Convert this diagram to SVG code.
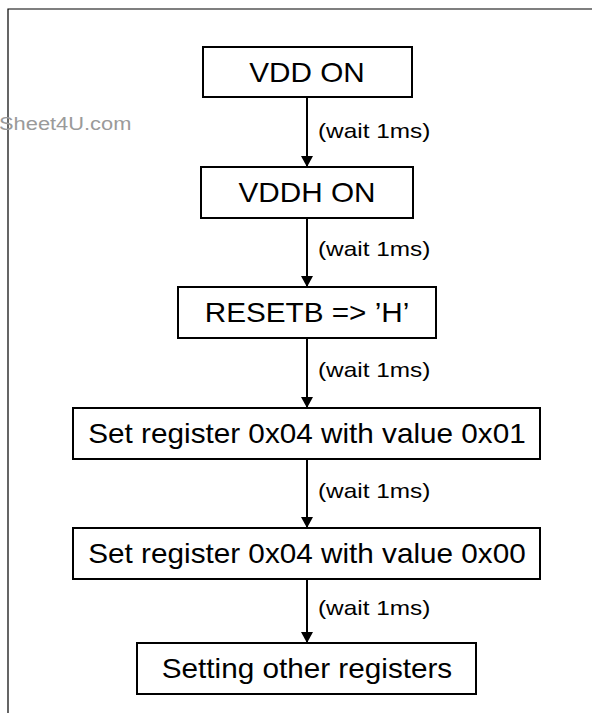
<svg xmlns="http://www.w3.org/2000/svg" width="592" height="713" viewBox="0 0 592 713">
<defs>
<style>
.box{fill:#fff;stroke:#000;stroke-width:2}
.t{font-family:"Liberation Sans",Arial,sans-serif;font-size:27px;fill:#000;text-anchor:middle}
.lbl{font-family:"Liberation Sans",Arial,sans-serif;font-size:21px;fill:#000}
.wm{font-family:"Liberation Sans",Arial,sans-serif;font-size:19px;fill:#9a9a9a}
.c{stroke:#000;stroke-width:2;fill:none}
</style>
<marker id="ah" markerWidth="12" markerHeight="12" refX="11" refY="6" orient="auto" markerUnits="userSpaceOnUse">
<path d="M0,0 L11,6 L0,12 Z" fill="#000"/>
</marker>
</defs>
<rect width="592" height="713" fill="#fff"/>
<path d="M8,713 V9 H592" fill="none" stroke="#000" stroke-width="1.2"/>
<text class="wm" x="-1" y="130" transform="translate(-1 0) scale(1.15 1) translate(1 0)">Sheet4U.com</text>
<g id="connectors">
<line class="c" x1="307" y1="97" x2="307" y2="167" marker-end="url(#ah)"/>
<line class="c" x1="307" y1="218" x2="307" y2="287" marker-end="url(#ah)"/>
<line class="c" x1="307" y1="338" x2="307" y2="408" marker-end="url(#ah)"/>
<line class="c" x1="307" y1="459" x2="307" y2="528" marker-end="url(#ah)"/>
<line class="c" x1="307" y1="579" x2="307" y2="643" marker-end="url(#ah)"/>
<g transform="translate(318 0) scale(1.16 1) translate(-318 0)">
<text class="lbl" x="318" y="138">(wait 1ms)</text>
<text class="lbl" x="318" y="256">(wait 1ms)</text>
<text class="lbl" x="318" y="377">(wait 1ms)</text>
<text class="lbl" x="318" y="498">(wait 1ms)</text>
<text class="lbl" x="318" y="615">(wait 1ms)</text>
</g>
</g>
<g id="n1"><rect class="box" x="203" y="47" width="209" height="50"/><text class="t" x="307" y="82" transform="translate(307 0) scale(1.1 1) translate(-307 0)">VDD ON</text></g>
<g id="n2"><rect class="box" x="201" y="167" width="212" height="51"/><text class="t" x="307" y="202" transform="translate(307 0) scale(1.1 1) translate(-307 0)">VDDH ON</text></g>
<g id="n3"><rect class="box" x="178" y="287" width="258" height="51"/><text class="t" x="307" y="322" transform="translate(307 0) scale(1.1 1) translate(-307 0)">RESETB =&gt; ’H’</text></g>
<g id="n4"><rect class="box" x="73" y="408" width="467" height="51"/><text class="t" x="307" y="443" transform="translate(307 0) scale(1.1 1) translate(-307 0)">Set register 0x04 with value 0x01</text></g>
<g id="n5"><rect class="box" x="73" y="528" width="467" height="51"/><text class="t" x="307" y="563" transform="translate(307 0) scale(1.1 1) translate(-307 0)">Set register 0x04 with value 0x00</text></g>
<g id="n6"><rect class="box" x="137" y="643" width="339" height="51"/><text class="t" x="307" y="678" transform="translate(307 0) scale(1.1 1) translate(-307 0)">Setting other registers</text></g>
</svg>
